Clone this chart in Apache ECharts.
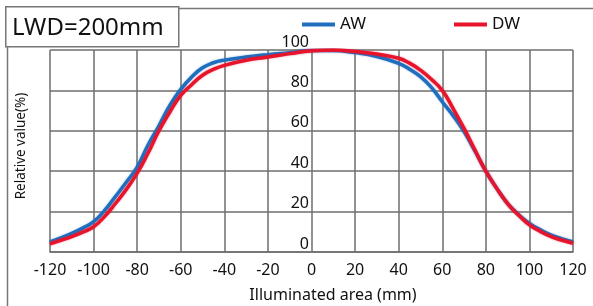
<!DOCTYPE html>
<html>
<head>
<meta charset="utf-8">
<script src="https://cdn.jsdelivr.net/npm/echarts@6/dist/echarts.min.js"></script>
<style>html,body{margin:0;padding:0;background:#fff;}#c{width:593px;height:306px;}</style>
</head>
<body>
<div id="c"></div>
<script>
const positions = [-120,-115,-110,-105,-100,-95,-90,-85,-80,-75,-70,-65,-60,-55,-50,-45,-40,-30,-20,-10,0,10,20,30,40,45,50,55,60,65,70,75,80,85,90,95,100,105,110,115,120];
const awValues = [5,7,9.2,11.8,15,20.5,27.4,34.5,42,53,62.5,72.6,80.5,86.6,91.2,93.7,95,96.5,97.7,98.7,99.7,99.7,98.7,96.8,93.4,90.5,86.8,81.5,74.4,67.5,59.6,50,40,31.5,24,18.5,14.2,11,8.4,6.5,5];
const dwValues = [4,5.8,7.6,9.8,12.5,17.5,24,31,39,49,60,69.3,77.5,82.8,87.5,90.4,92.4,94.9,96.5,98.2,99.6,100,99.2,98,95.9,93.5,90,85.5,80,71,61.2,50.5,40,31.5,24,18.3,13.4,10.2,7.6,5.8,4.3];
const xTicks = [-120,-100,-80,-60,-40,-20,0,20,40,60,80,100,120];
const yTicks = [0,20,40,60,80,100];
const seriesNames = ['AW','DW'];
const title = 'LWD=200mm';
const xName = 'Illuminated area (mm)';
const yName = 'Relative value(%)';

const blue = '#1f6fbf';
const red = '#e8142c';
const font = 'Noto Sans';
const chart = echarts.init(document.getElementById('c'), null, {renderer:'canvas'});
chart.setOption({
  animation: false,
  backgroundColor: '#fff',
  textStyle: {fontFamily: font},
  grid: {left: 50, right: 20, top: 50, bottom: 54, containLabel: false},
  legend: {
    left: 297, top: 11, itemWidth: 33, itemHeight: 4, itemGap: 88, icon: 'rect',
    textStyle: {fontSize: 17, color: '#111', fontFamily: font},
    data: seriesNames
  },
  xAxis: {
    type: 'value', min: -120, max: 120, interval: 20,
    axisLine: {show: true, lineStyle: {color: '#6e6e6e', width: 1.5}},
    axisTick: {show: false},
    splitLine: {show: true, lineStyle: {color: '#6e6e6e', width: 1.5}},
    axisLabel: {fontSize: 16, color: '#111', margin: 10, fontFamily: font,
      customValues: xTicks}
  },
  yAxis: {
    type: 'value', min: 0, max: 100, interval: 20, offset: -261,
    axisLine: {show: false},
    axisTick: {show: false},
    splitLine: {show: true, lineStyle: {color: '#6e6e6e', width: 1.5}},
    axisLabel: {fontSize: 16, color: '#111', margin: 2, verticalAlign: 'bottom', fontFamily: font,
      customValues: yTicks, showMinLabel: true, showMaxLabel: true}
  },
  series: [
    {name: seriesNames[0], type: 'line', smooth: 0.5, symbol: 'none', z: 3,
     data: positions.map((p,i)=>[p, awValues[i]]),
     lineStyle: {color: blue, width: 3.5, shadowColor: 'rgba(31,111,191,0.5)', shadowBlur: 2},
     itemStyle: {color: blue}},
    {name: seriesNames[1], type: 'line', smooth: 0.5, symbol: 'none', z: 4,
     data: positions.map((p,i)=>[p, dwValues[i]]),
     lineStyle: {color: red, width: 3.5, shadowColor: 'rgba(232,20,44,0.5)', shadowBlur: 2},
     itemStyle: {color: red}}
  ],
  graphic: [
    {type: 'rect', left: 5, top: 6, shape: {width: 600, height: 310}, style: {fill: 'none', stroke: '#777', lineWidth: 1.5}, silent: true, z: -1},
    {type: 'rect', left: 5, top: 6, shape: {width: 173, height: 40}, style: {fill: '#fff', stroke: '#777', lineWidth: 1.5}, silent: true, z: 1},
    {type: 'text', x: 12, y: 28, style: {text: title, fontSize: 24, fill: '#111', fontFamily: font, verticalAlign: 'middle'}, z: 2},
    {type: 'text', x: 333, y: 295, style: {text: xName, fontSize: 16, fill: '#111', fontFamily: font, align: 'center', verticalAlign: 'middle'}},
    {type: 'text', x: 21, y: 146, rotation: Math.PI/2, style: {text: yName, fontSize: 13.5, fill: '#111', fontFamily: font, align: 'center', verticalAlign: 'middle'}}
  ]
});
</script>
</body>
</html>
